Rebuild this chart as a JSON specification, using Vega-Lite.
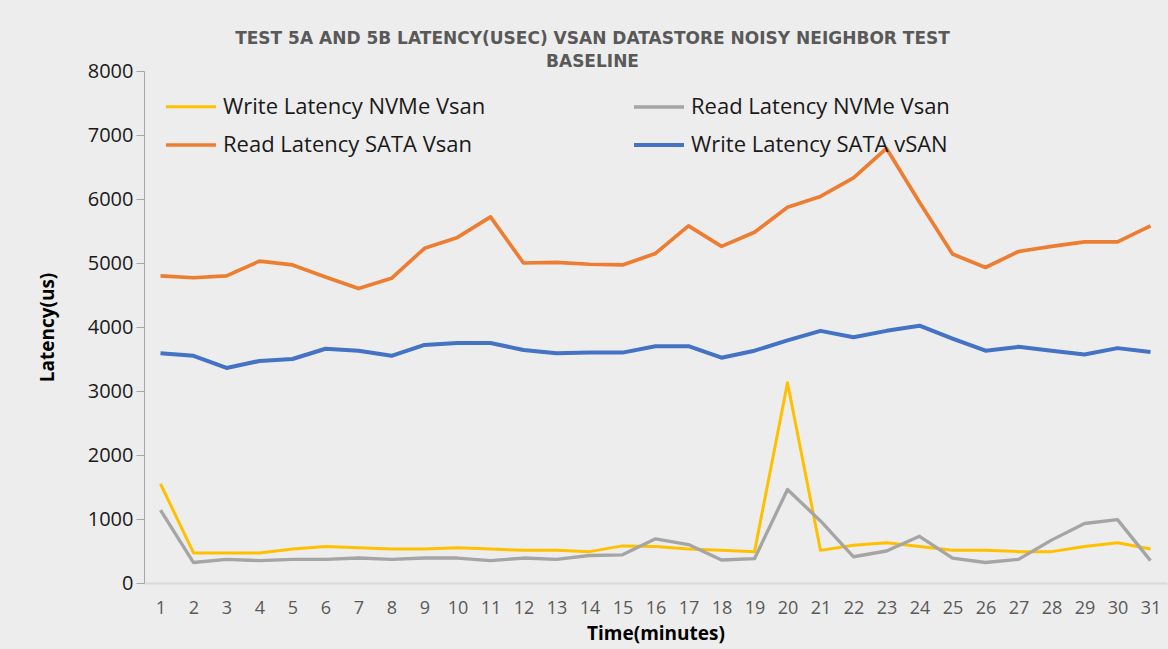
{
  "$schema": "https://vega.github.io/schema/vega-lite/v6.json",
  "width": 1023,
  "height": 512,
  "autosize": {"type": "none"},
  "padding": {"left": 144, "top": 71, "right": 1, "bottom": 66},
  "background": "#ededed",
  "title": {
    "text": ["TEST 5A AND 5B LATENCY(USEC) VSAN DATASTORE NOISY NEIGHBOR TEST", "BASELINE"],
    "frame": "group",
    "anchor": "middle",
    "dx": -63,
    "offset": -10,
    "font": "DejaVu Sans",
    "fontSize": 17,
    "fontWeight": "bold",
    "color": "#595959",
    "lineHeight": 23
  },
  "data": {
    "values": [
      {"t": 1, "Write Latency NVMe Vsan": 1550, "Read Latency NVMe Vsan": 1140, "Read Latency SATA Vsan": 4800, "Write Latency SATA vSAN": 3590},
      {"t": 2, "Write Latency NVMe Vsan": 470, "Read Latency NVMe Vsan": 320, "Read Latency SATA Vsan": 4770, "Write Latency SATA vSAN": 3550},
      {"t": 3, "Write Latency NVMe Vsan": 470, "Read Latency NVMe Vsan": 370, "Read Latency SATA Vsan": 4800, "Write Latency SATA vSAN": 3360},
      {"t": 4, "Write Latency NVMe Vsan": 470, "Read Latency NVMe Vsan": 350, "Read Latency SATA Vsan": 5030, "Write Latency SATA vSAN": 3470},
      {"t": 5, "Write Latency NVMe Vsan": 530, "Read Latency NVMe Vsan": 370, "Read Latency SATA Vsan": 4970, "Write Latency SATA vSAN": 3500},
      {"t": 6, "Write Latency NVMe Vsan": 570, "Read Latency NVMe Vsan": 370, "Read Latency SATA Vsan": 4780, "Write Latency SATA vSAN": 3660},
      {"t": 7, "Write Latency NVMe Vsan": 550, "Read Latency NVMe Vsan": 390, "Read Latency SATA Vsan": 4600, "Write Latency SATA vSAN": 3630},
      {"t": 8, "Write Latency NVMe Vsan": 530, "Read Latency NVMe Vsan": 370, "Read Latency SATA Vsan": 4760, "Write Latency SATA vSAN": 3550},
      {"t": 9, "Write Latency NVMe Vsan": 530, "Read Latency NVMe Vsan": 390, "Read Latency SATA Vsan": 5230, "Write Latency SATA vSAN": 3720},
      {"t": 10, "Write Latency NVMe Vsan": 550, "Read Latency NVMe Vsan": 390, "Read Latency SATA Vsan": 5400, "Write Latency SATA vSAN": 3750},
      {"t": 11, "Write Latency NVMe Vsan": 530, "Read Latency NVMe Vsan": 350, "Read Latency SATA Vsan": 5720, "Write Latency SATA vSAN": 3750},
      {"t": 12, "Write Latency NVMe Vsan": 510, "Read Latency NVMe Vsan": 390, "Read Latency SATA Vsan": 5000, "Write Latency SATA vSAN": 3640},
      {"t": 13, "Write Latency NVMe Vsan": 510, "Read Latency NVMe Vsan": 370, "Read Latency SATA Vsan": 5010, "Write Latency SATA vSAN": 3590},
      {"t": 14, "Write Latency NVMe Vsan": 490, "Read Latency NVMe Vsan": 430, "Read Latency SATA Vsan": 4980, "Write Latency SATA vSAN": 3600},
      {"t": 15, "Write Latency NVMe Vsan": 580, "Read Latency NVMe Vsan": 440, "Read Latency SATA Vsan": 4970, "Write Latency SATA vSAN": 3600},
      {"t": 16, "Write Latency NVMe Vsan": 570, "Read Latency NVMe Vsan": 690, "Read Latency SATA Vsan": 5150, "Write Latency SATA vSAN": 3700},
      {"t": 17, "Write Latency NVMe Vsan": 530, "Read Latency NVMe Vsan": 600, "Read Latency SATA Vsan": 5580, "Write Latency SATA vSAN": 3700},
      {"t": 18, "Write Latency NVMe Vsan": 510, "Read Latency NVMe Vsan": 360, "Read Latency SATA Vsan": 5260, "Write Latency SATA vSAN": 3520},
      {"t": 19, "Write Latency NVMe Vsan": 490, "Read Latency NVMe Vsan": 380, "Read Latency SATA Vsan": 5480, "Write Latency SATA vSAN": 3630},
      {"t": 20, "Write Latency NVMe Vsan": 3130, "Read Latency NVMe Vsan": 1460, "Read Latency SATA Vsan": 5870, "Write Latency SATA vSAN": 3790},
      {"t": 21, "Write Latency NVMe Vsan": 510, "Read Latency NVMe Vsan": 970, "Read Latency SATA Vsan": 6040, "Write Latency SATA vSAN": 3940},
      {"t": 22, "Write Latency NVMe Vsan": 590, "Read Latency NVMe Vsan": 410, "Read Latency SATA Vsan": 6330, "Write Latency SATA vSAN": 3840},
      {"t": 23, "Write Latency NVMe Vsan": 630, "Read Latency NVMe Vsan": 500, "Read Latency SATA Vsan": 6790, "Write Latency SATA vSAN": 3940},
      {"t": 24, "Write Latency NVMe Vsan": 570, "Read Latency NVMe Vsan": 730, "Read Latency SATA Vsan": 5950, "Write Latency SATA vSAN": 4020},
      {"t": 25, "Write Latency NVMe Vsan": 510, "Read Latency NVMe Vsan": 390, "Read Latency SATA Vsan": 5140, "Write Latency SATA vSAN": 3820},
      {"t": 26, "Write Latency NVMe Vsan": 510, "Read Latency NVMe Vsan": 320, "Read Latency SATA Vsan": 4930, "Write Latency SATA vSAN": 3630},
      {"t": 27, "Write Latency NVMe Vsan": 490, "Read Latency NVMe Vsan": 370, "Read Latency SATA Vsan": 5180, "Write Latency SATA vSAN": 3690},
      {"t": 28, "Write Latency NVMe Vsan": 490, "Read Latency NVMe Vsan": 670, "Read Latency SATA Vsan": 5260, "Write Latency SATA vSAN": 3630},
      {"t": 29, "Write Latency NVMe Vsan": 570, "Read Latency NVMe Vsan": 930, "Read Latency SATA Vsan": 5330, "Write Latency SATA vSAN": 3570},
      {"t": 30, "Write Latency NVMe Vsan": 630, "Read Latency NVMe Vsan": 990, "Read Latency SATA Vsan": 5330, "Write Latency SATA vSAN": 3670},
      {"t": 31, "Write Latency NVMe Vsan": 530, "Read Latency NVMe Vsan": 350, "Read Latency SATA Vsan": 5580, "Write Latency SATA vSAN": 3610}
    ]
  },
  "transform": [
    {"fold": ["Write Latency NVMe Vsan", "Read Latency NVMe Vsan", "Read Latency SATA Vsan", "Write Latency SATA vSAN"], "as": ["series", "value"]}
  ],
  "mark": {"type": "line", "strokeJoin": "round"},
  "encoding": {
    "x": {
      "field": "t",
      "type": "ordinal",
      "scale": {"type": "point", "padding": 0.5},
      "axis": {
        "title": "Time(minutes)",
        "titleFont": "Open Sans",
        "titleFontSize": 19,
        "titleFontWeight": "bold",
        "titleColor": "#000000",
        "titlePadding": 7,
        "labelAngle": 0,
        "labelFont": "Open Sans",
        "labelFontSize": 18,
        "labelColor": "#595959",
        "labelPadding": 16,
        "ticks": false,
        "domainColor": "#d9d9d9",
        "domainWidth": 2,
        "grid": false
      }
    },
    "y": {
      "field": "value",
      "type": "quantitative",
      "scale": {"domain": [0, 8000], "nice": false},
      "axis": {
        "title": "Latency(us)",
        "titleFont": "Open Sans",
        "titleFontSize": 19,
        "titleFontWeight": "bold",
        "titleColor": "#000000",
        "titlePadding": 30,
        "values": [0, 1000, 2000, 3000, 4000, 5000, 6000, 7000, 8000],
        "format": "d",
        "labelFont": "Open Sans",
        "labelFontSize": 20,
        "labelColor": "#1a1a1a",
        "labelPadding": 3,
        "tickSize": 8,
        "tickColor": "#a6a6a6",
        "domainColor": "#a6a6a6",
        "grid": false
      }
    },
    "color": {
      "field": "series",
      "type": "nominal",
      "scale": {
        "domain": ["Write Latency NVMe Vsan", "Read Latency NVMe Vsan", "Read Latency SATA Vsan", "Write Latency SATA vSAN"],
        "range": ["#FFC000", "#A5A5A5", "#ED7D31", "#4472C4"]
      },
      "legend": {
        "title": null,
        "orient": "none",
        "direction": "horizontal",
        "legendX": 20,
        "legendY": 9,
        "columns": 2,
        "columnPadding": 140,
        "rowPadding": -3,
        "symbolType": "stroke",
        "symbolSize": 2500,
        "symbolStrokeWidth": 3.5,
        "labelFont": "Open Sans",
        "labelFontSize": 22,
        "labelColor": "#1a1a1a",
        "labelOffset": 5,
        "labelLimit": 400
      }
    },
    "strokeWidth": {
      "field": "series",
      "type": "nominal",
      "scale": {
        "domain": ["Write Latency NVMe Vsan", "Read Latency NVMe Vsan", "Read Latency SATA Vsan", "Write Latency SATA vSAN"],
        "range": [3, 4, 3, 4]
      },
      "legend": null
    }
  },
  "config": {"view": {"stroke": null}}
}
